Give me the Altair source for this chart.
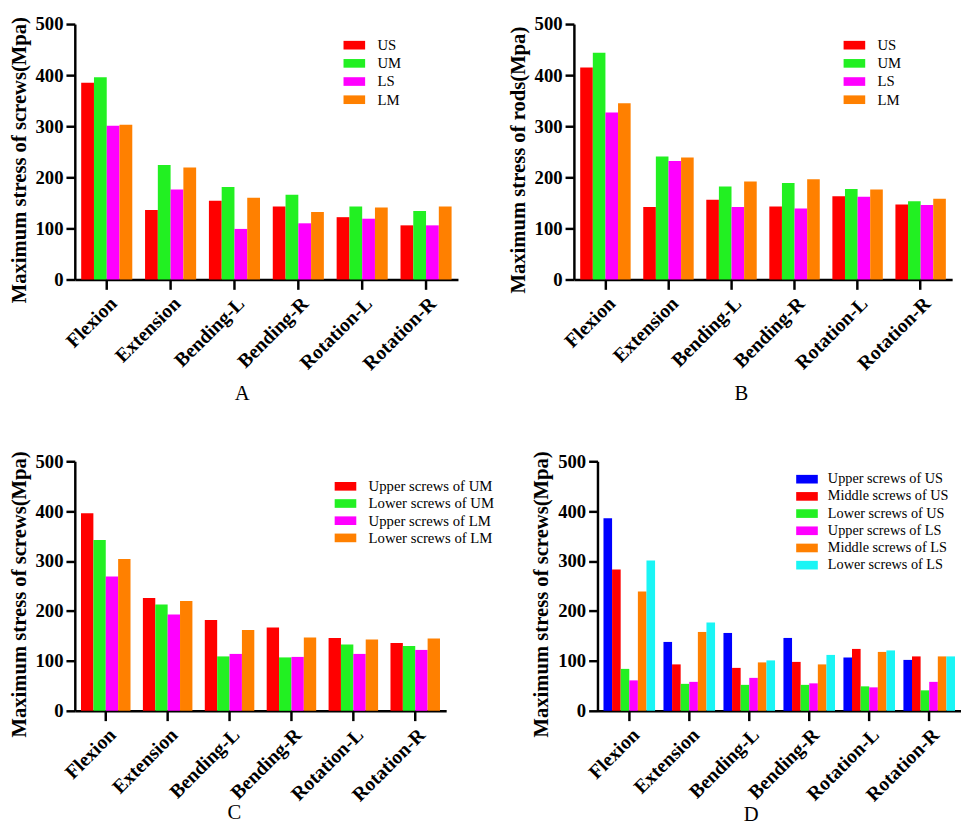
import altair as alt
import pandas as pd

FONT = "Liberation Serif"

movements = ["Flexion", "Extension", "Bending-L", "Bending-R", "Rotation-L", "Rotation-R"]

# panel A - screws
a_series = ["US", "UM", "LS", "LM"]
a_us = [385, 136, 154, 143, 122, 106]
a_um = [396, 224, 181, 166, 143, 134]
a_ls = [301, 176, 99, 110, 119, 106]
a_lm = [303, 219, 160, 132, 141, 143]

# panel B - rods
b_series = ["US", "UM", "LS", "LM"]
b_us = [415, 142, 156, 143, 163, 147]
b_um = [444, 241, 182, 189, 177, 153]
b_ls = [327, 232, 142, 139, 162, 146]
b_lm = [345, 239, 192, 196, 176, 158]

# panel C - UM / LM screws
c_series = ["Upper screws of UM", "Lower screws of UM", "Upper screws of LM", "Lower screws of LM"]
c_upper_um = [396, 226, 182, 167, 146, 136]
c_lower_um = [342, 213, 109, 107, 133, 130]
c_upper_lm = [269, 193, 114, 108, 114, 122]
c_lower_lm = [304, 220, 162, 147, 143, 145]

# panel D - US / LS screws
d_series = ["Upper screws of US", "Middle screws of US", "Lower screws of US",
            "Upper screws of LS", "Middle screws of LS", "Lower screws of LS"]
d_upper_us = [386, 138, 156, 146, 107, 102]
d_middle_us = [283, 93, 86, 98, 124, 109]
d_lower_us = [84, 54, 52, 52, 49, 41]
d_upper_ls = [61, 58, 66, 55, 47, 58]
d_middle_ls = [239, 158, 97, 93, 118, 109]
d_lower_ls = [301, 177, 101, 112, 121, 109]

four_colors = ["#ff0000", "#22f022", "#ff00ff", "#ff8000"]
six_colors = ["#0000ff", "#ff0000", "#22f022", "#ff00ff", "#ff8000", "#1af5f5"]

# wide legend swatch; drawn at 2x the nominal symbol size
RECT = "M-2,-0.8H2V0.8H-2Z"


def build_frame(series, columns):
    rows = []
    for name, values in zip(series, columns):
        for movement, value in zip(movements, values):
            rows.append({"movement": movement, "series": name, "stress": value})
    return pd.DataFrame(rows)


def create_panel(frame, series, colors, y_title, label, width, height,
                 legend_x, legend_y, label_x, label_y=116, legend_size=15,
                 label_offset=16, row_padding=2.5, pad_inner=0.2):
    """Grouped bar panel with an inside legend and a letter under the axis."""
    return alt.Chart(frame).mark_bar().encode(
        x=alt.X(
            "movement:N",
            sort=movements,
            scale=alt.Scale(paddingInner=pad_inner, paddingOuter=0.1),
            axis=alt.Axis(
                labelAngle=-45,
                labelAlign="right",
                labelBaseline="top",
                labelFontSize=20,
                labelFontWeight="bold",
                labelPadding=4,
                tickSize=10,
                titleFontSize=21,
                titleFontWeight="normal",
                titleX=label_x,
                titleY=label_y,
                titleBaseline="middle",
            ),
            title=label,
        ),
        xOffset=alt.XOffset("series:N", sort=series, scale=alt.Scale(paddingInner=0, paddingOuter=0)),
        y=alt.Y(
            "stress:Q",
            scale=alt.Scale(domain=[0, 500]),
            axis=alt.Axis(
                values=[0, 100, 200, 300, 400, 500],
                grid=False,
                labelFontSize=19,
                labelFontWeight="bold",
                labelPadding=3,
                tickSize=9,
                titleFontSize=21,
                titleFontWeight="bold",
                titlePadding=6,
                titleY=height / 2 + 8,
            ),
            title=y_title,
        ),
        color=alt.Color(
            "series:N",
            sort=series,
            scale=alt.Scale(domain=series, range=colors),
            legend=alt.Legend(
                title=None,
                orient="none",
                legendX=legend_x,
                legendY=legend_y,
                symbolType=RECT,
                symbolSize=121,
                symbolStrokeWidth=0,
                labelFontSize=legend_size,
                labelFont=FONT,
                labelOffset=label_offset,
                rowPadding=row_padding,
            ),
        ),
    ).properties(width=width, height=height)


panel_a = create_panel(
    build_frame(a_series, [a_us, a_um, a_ls, a_lm]), a_series, four_colors,
    "Maximum stress of screws(Mpa)", "A", 390, 260, 277, 14, 170,
)
panel_b = create_panel(
    build_frame(b_series, [b_us, b_um, b_ls, b_lm]), b_series, four_colors,
    "Maximum stress of rods(Mpa)", "B", 385, 260, 278, 14, 170,
)
panel_c = create_panel(
    build_frame(c_series, [c_upper_um, c_lower_um, c_upper_lm, c_lower_lm]), c_series, four_colors,
    "Maximum stress of screws(Mpa)", "C", 378, 254, 268, 18, 162, label_y=104,
    row_padding=1.5,
)
panel_d = create_panel(
    build_frame(d_series, [d_upper_us, d_middle_us, d_lower_us, d_upper_ls, d_middle_ls, d_lower_ls]),
    d_series, six_colors,
    "Maximum stress of screws(Mpa)", "D", 370, 254, 206, 11, 156, label_y=106,
    legend_size=14.5, label_offset=14, pad_inner=0.14,
)

independent = dict(x="independent", xOffset="independent", color="independent")

top = alt.hconcat(panel_a, panel_b, spacing=50).resolve_scale(**independent)
bottom = alt.hconcat(panel_c, panel_d, spacing=37).resolve_scale(**independent)

chart = alt.vconcat(top, bottom, spacing=48).resolve_scale(**independent).properties(
    padding=0,
).configure_view(
    stroke=None,
).configure_axis(
    labelFont=FONT,
    titleFont=FONT,
    labelColor="black",
    titleColor="black",
    domainColor="black",
    domainWidth=2.5,
    tickColor="black",
    tickWidth=2.5,
).configure_legend(
    labelColor="black",
)

chart.save("out.html", embed_options={"renderer": "svg", "actions": False})
